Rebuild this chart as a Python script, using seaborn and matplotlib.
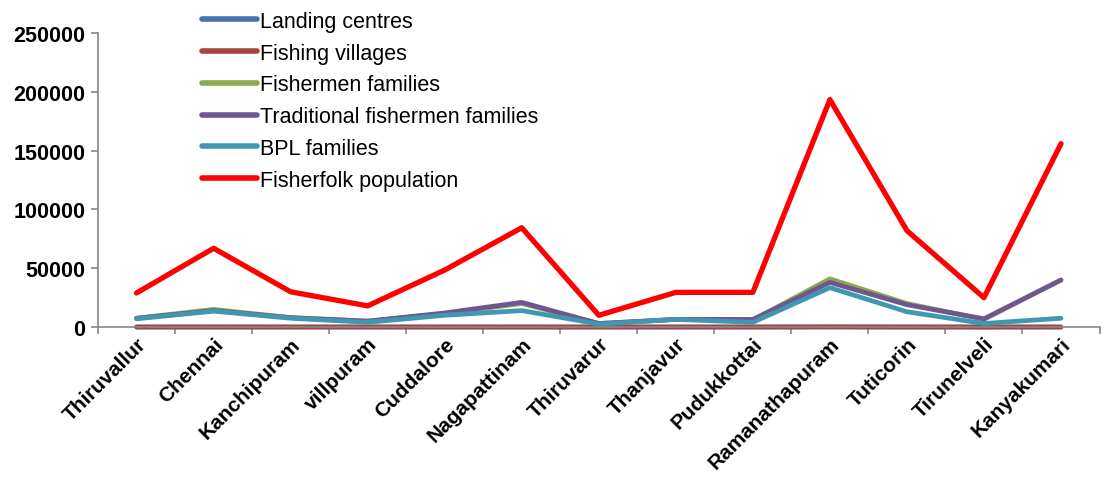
#!/usr/bin/env python3

import numpy as np
import pandas as pd
import seaborn as sns
import matplotlib.pyplot as plt
from matplotlib.ticker import FixedLocator

districts = ["Thiruvallur", "Chennai", "Kanchipuram", "villpuram", "Cuddalore",
             "Nagapattinam", "Thiruvarur", "Thanjavur", "Pudukkottai",
             "Ramanathapuram", "Tuticorin", "Tirunelveli", "Kanyakumari"]

landing_centres = [7, 4, 9, 9, 5, 9, 4, 8, 9, 22, 7, 4, 10]
fishing_villages = [52, 44, 44, 19, 49, 56, 21, 27, 32, 179, 44, 10, 44]
fishermen_families = [7500, 15000, 8000, 5000, 11500, 20000, 3000, 6500, 6000,
                      41000, 20000, 6500, 40000]
traditional_families = [7500, 14000, 8000, 5000, 12000, 21000, 3000, 6500, 6500,
                        38000, 19000, 7000, 40000]
bpl_families = [7000, 13500, 7500, 4000, 10000, 14000, 2500, 6500, 4000,
                33500, 13000, 3000, 7500]
fisherfolk_population = [29000, 67000, 30000, 18000, 48500, 84500, 10000, 29500,
                         29500, 193500, 82000, 25000, 156000]

series = {
    "Landing centres": landing_centres,
    "Fishing villages": fishing_villages,
    "Fishermen families": fishermen_families,
    "Traditional fishermen families": traditional_families,
    "BPL families": bpl_families,
    "Fisherfolk population": fisherfolk_population,
}
colors = ["#4672B0", "#A8443F", "#8BAA4C", "#6F5691", "#3F98B1", "#FF0000"]

rows = []
for name, vals in series.items():
    for i, v in enumerate(vals):
        rows.append({"pos": i, "district": districts[i], "series": name, "value": v})
data = pd.DataFrame(rows)

sns.set_theme(style="white")
plt.rcParams["font.family"] = ["Liberation Sans", "DejaVu Sans"]
plt.rcParams["text.color"] = "black"
plt.rcParams["xtick.color"] = "black"
plt.rcParams["ytick.color"] = "black"

fig = plt.figure(figsize=(11.14, 4.81), dpi=100)
ax = fig.add_axes([0.088, 0.318, 0.899, 0.611])

sns.lineplot(data=data, x="pos", y="value", hue="series", palette=colors,
             ax=ax, linewidth=3.4, legend=True, solid_capstyle="round")
for line, name in zip(ax.lines, series):
    line.set_clip_on(False)
    if name == "Fisherfolk population":
        line.set_linewidth(3.8)

ax.set_xlim(-0.5, 12.5)
ax.set_ylim(0, 250000)
ax.set_yticks(np.arange(0, 250001, 50000))
ax.set_yticklabels([f"{int(v)}" for v in np.arange(0, 250001, 50000)],
                   fontsize=15.5, fontweight="bold")
ax.set_xticks(range(len(districts)))
ax.set_xticklabels(districts, rotation=45, ha="right", rotation_mode="anchor",
                   fontsize=15, fontweight="bold")
ax.xaxis.set_minor_locator(FixedLocator(np.arange(-0.5, 13, 1)))
ax.tick_params(axis="x", which="major", length=0, pad=5)
ax.tick_params(axis="x", which="minor", length=5, width=1.2, color="#888888",
               direction="out", bottom=True)
ax.tick_params(axis="y", length=5, width=1.2, color="#888888", direction="out",
               left=True, pad=4, labelcolor="black")
ax.tick_params(axis="x", labelcolor="black")
ax.set_xlabel("")
ax.set_ylabel("")

for side in ["top", "right"]:
    ax.spines[side].set_visible(False)
for side in ["left", "bottom"]:
    ax.spines[side].set_color("#888888")
    ax.spines[side].set_linewidth(1.2)

handles, labels = ax.get_legend_handles_labels()
leg = ax.legend(handles, labels, loc="upper left",
                bbox_to_anchor=(191 / 1114, 1 - 1 / 481),
                bbox_transform=fig.transFigure,
                frameon=False, fontsize=15.5, borderpad=0, labelspacing=0.5,
                handlelength=2.55, handletextpad=0.15)
for text in leg.get_texts():
    text.set_color("black")
for h in leg.get_lines():
    h.set_linewidth(4)

fig.savefig("out.png", dpi=100)
